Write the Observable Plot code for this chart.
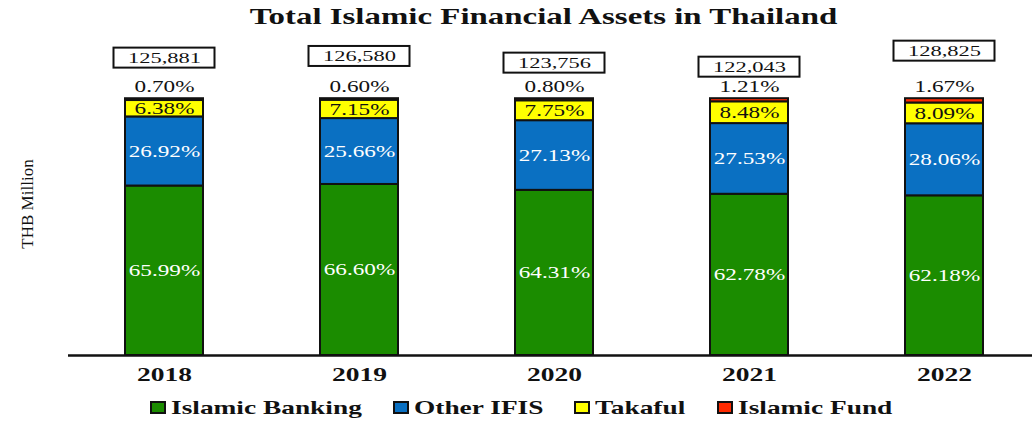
<!DOCTYPE html>
<html>
<head>
<meta charset="utf-8">
<script src="https://cdn.jsdelivr.net/npm/d3@7"></script>
<script src="https://cdn.jsdelivr.net/npm/@observablehq/plot@0.6"></script>
<style>
html, body { margin: 0; padding: 0; background: #fff; }
#wrap { width: 1032px; height: 421px; position: relative; overflow: hidden; background: #fff; }
#title { height: 34px; padding-left: 54px; text-align: center; font-family: "Liberation Serif"; font-weight: bold; font-size: 23px; line-height: 33px; color: #111; }
#title span { display: inline-block; transform: scaleX(1.43); transform-origin: center; }
#legend { position: relative; height: 27px; font-family: "Liberation Serif"; font-weight: bold; font-size: 19px; color: #111; }
.item { position: absolute; top: 0; height: 27px; display: flex; align-items: center; white-space: nowrap; }
.sw { width: 12px; height: 9px; border: 2px solid #111; margin-right: 5px; flex: none; }
.lab { display: inline-block; transform: scaleX(1.44); transform-origin: left center; }
</style>
</head>
<body>
<div id="wrap">
  <div id="title"><span>Total Islamic Financial Assets in Thailand</span></div>
  <div id="chart"></div>
  <div id="legend"></div>
</div>
<script>
const years = ["2018", "2019", "2020", "2021", "2022"];
const seriesNames = ["Islamic Banking", "Other IFIS", "Takaful", "Islamic Fund"];
const banking = [65.99, 66.60, 64.31, 62.78, 62.18];
const otherIfis = [26.92, 25.66, 27.13, 27.53, 28.06];
const takaful = [6.38, 7.15, 7.75, 8.48, 8.09];
const fund = [0.70, 0.60, 0.80, 1.21, 1.67];
const totals = [125881, 126580, 123756, 122043, 128825];
const colors = ["#1b8c00", "#0a70c2", "#ffff00", "#ff2a00"];
const yLabel = "THB Million";

const columns = [banking, otherIfis, takaful, fund];
const data = years.flatMap((y, i) => seriesNames.map((s, j) => ({year: y, series: s, value: columns[j][i]})));
const boxes = years.map((y, i) => ({year: y, total: totals[i]}));
const fmt = v => v.toFixed(2) + "%";
// totals sit on a secondary (total-asset) axis, mapped onto the percent axis
const totalToPct = d3.scaleLinear([0, 108700], [0, 100]);

const chart = Plot.plot({
  width: 1032,
  height: 360,
  marginLeft: 68,
  marginRight: 0,
  marginTop: 0,
  marginBottom: 39,
  x: {domain: years, paddingInner: 0.6, paddingOuter: 0.26, align: 0.54, axis: null},
  y: {domain: [0, 125], axis: null},
  color: {domain: seriesNames, range: colors},
  style: {fontFamily: "Liberation Serif", fontSize: "16px", color: "#111", background: "white"},
  marks: [
    Plot.barY(data, {x: "year", y: "value", fill: "series", stroke: "#111", strokeWidth: 2}),
    Plot.ruleY([0], {stroke: "#111", strokeWidth: 2.5}),
    Plot.text(data, Plot.stackY({
      x: "year", y: "value", z: "series",
      text: d => (d.series === "Islamic Banking" || d.series === "Other IFIS") ? fmt(d.value) : null,
      fill: "white", fontSize: 16
    })),
    Plot.text(data, Plot.stackY({
      x: "year", y: "value", z: "series",
      text: d => d.series === "Takaful" ? fmt(d.value) : null,
      fill: "#111", fontSize: 16
    })),
    Plot.text(data, Plot.stackY2({
      x: "year", y: "value", z: "series",
      text: d => d.series === "Islamic Fund" ? fmt(d.value) : null,
      fill: "#111", fontSize: 16, dy: -12
    })),
    Plot.barY(boxes, {
      x: "year", y1: d => totalToPct(d.total), y2: d => totalToPct(d.total),
      insetTop: -10, insetBottom: -10, insetLeft: -11.5, insetRight: -11.5,
      fill: "white", stroke: "#111", strokeWidth: 2
    }),
    Plot.text(boxes, {x: "year", y: d => totalToPct(d.total), text: d => d3.format(",")(d.total), fontSize: 15.5, fill: "#111"}),
    Plot.text(years, {x: d => d, frameAnchor: "bottom", dy: 25, fontSize: 19, fontWeight: "bold", fill: "#111"}),
    Plot.text([yLabel], {text: d => d, frameAnchor: "left", textAnchor: "middle", rotate: -90, dx: -41, dy: 9, fontFamily: "Liberation Serif", fontSize: 17, fill: "#111"})
  ]
});
document.getElementById("chart").appendChild(chart);

// horizontal stretch of the chart's texts (the reference typography is widened)
const k = 1.45;
chart.querySelectorAll("text").forEach(el => {
  if (el.textContent === yLabel) return;
  const x = +el.getAttribute("x") || 0;
  const t = el.getAttribute("transform") || "";
  el.setAttribute("transform", `${t} translate(${x},0) scale(${k},1) translate(${-x},0)`);
});

// legend
const legend = document.getElementById("legend");
let left = 150;
seriesNames.forEach((s, i) => {
  const item = document.createElement("div");
  item.className = "item";
  item.style.left = left + "px";
  const sw = document.createElement("span");
  sw.className = "sw";
  sw.style.background = colors[i];
  const label = document.createElement("span");
  label.className = "lab";
  label.textContent = s;
  item.appendChild(sw);
  item.appendChild(label);
  legend.appendChild(item);
  const r = label.getBoundingClientRect();
  const lr = legend.getBoundingClientRect();
  left = (r.right - lr.left) + 31;
});
</script>
</body>
</html>
